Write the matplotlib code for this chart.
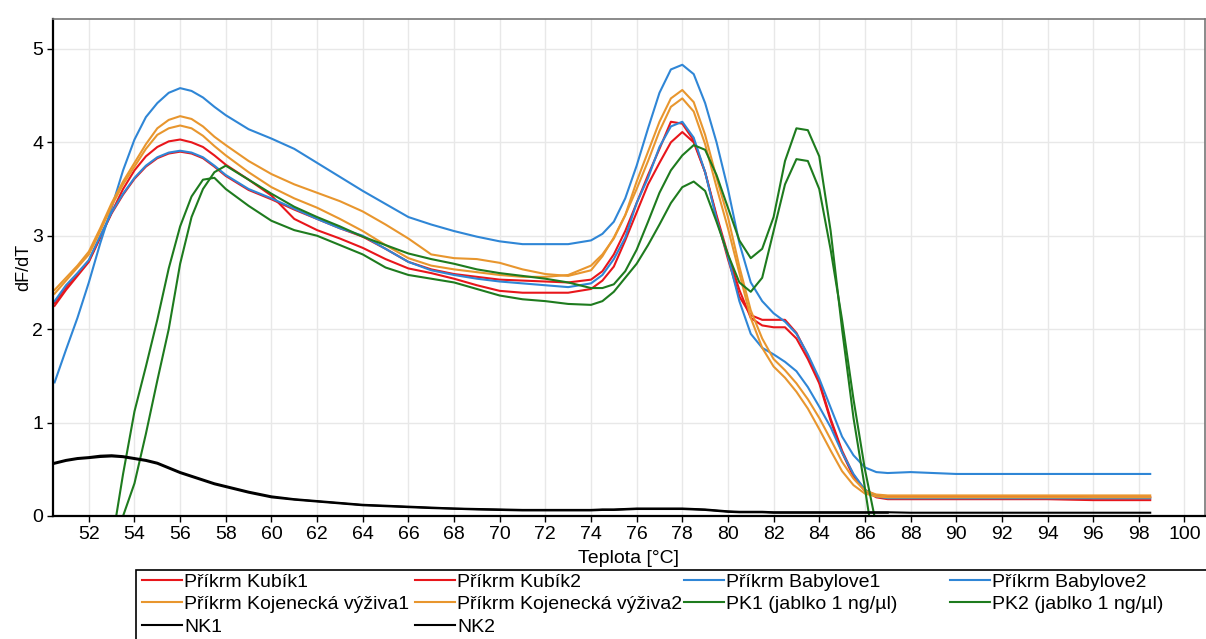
import matplotlib
matplotlib.use("Agg")
import matplotlib.pyplot as plt
import numpy as np
from matplotlib.patches import Rectangle

plt.rcParams["font.family"] = ["Liberation Sans", "DejaVu Sans"]

nan = np.nan

# teplota [°C] - spolecna mrizka odectenych bodu
T = [50.5, 51, 51.5, 52, 52.5, 53, 53.5, 54, 54.5, 55, 55.5, 56, 56.5, 57, 57.5, 58,
     59, 60, 61, 62, 63, 64, 65, 66, 67, 68, 69, 70, 71, 72, 73, 74,
     74.5, 75, 75.5, 76, 76.5, 77, 77.5, 78, 78.5, 79, 79.5, 80, 80.5, 81, 81.5, 82,
     82.5, 83, 83.5, 84, 84.5, 85, 85.5, 86, 86.5, 87,
     88, 90, 92, 94, 96, 98.5]

kubik1 = [2.25, 2.42, 2.57, 2.72, 2.98, 3.25, 3.50, 3.70, 3.85, 3.95, 4.01, 4.03, 4.00, 3.95, 3.86, 3.76,
          3.60, 3.43, 3.18, 3.06, 2.97, 2.87, 2.75, 2.65, 2.60, 2.54, 2.47, 2.41, 2.39, 2.39, 2.39, 2.43,
          2.52, 2.67, 2.95, 3.25, 3.55, 3.78, 4.00, 4.11, 4.00, 3.68, 3.22, 2.80, 2.42, 2.12, 2.04, 2.02,
          2.02, 1.90, 1.68, 1.42, 1.02, 0.68, 0.42, 0.27, 0.20, 0.18,
          0.18, 0.18, 0.18, 0.18, 0.17, 0.17]
kubik2 = [2.28, 2.45, 2.59, 2.73, 2.99, 3.24, 3.44, 3.61, 3.74, 3.83, 3.88, 3.90, 3.88, 3.83, 3.74, 3.64,
          3.49, 3.39, 3.28, 3.18, 3.08, 2.99, 2.86, 2.72, 2.64, 2.59, 2.56, 2.53, 2.52, 2.51, 2.50, 2.53,
          2.62, 2.80, 3.05, 3.35, 3.65, 3.93, 4.22, 4.20, 4.02, 3.68, 3.20, 2.75, 2.35, 2.15, 2.10, 2.10,
          2.10, 1.96, 1.72, 1.44, 1.04, 0.70, 0.44, 0.28, 0.22, 0.21,
          0.21, 0.21, 0.21, 0.21, 0.20, 0.20]
babylove1 = [1.43, 1.78, 2.12, 2.50, 2.92, 3.30, 3.70, 4.03, 4.27, 4.42, 4.53, 4.58, 4.55, 4.48, 4.38, 4.29,
             4.14, 4.04, 3.93, 3.78, 3.63, 3.48, 3.34, 3.20, 3.12, 3.05, 2.99, 2.94, 2.91, 2.91, 2.91, 2.95,
             3.02, 3.15, 3.40, 3.75, 4.15, 4.53, 4.78, 4.83, 4.73, 4.42, 4.00, 3.50, 2.92, 2.50, 2.30, 2.17,
             2.08, 1.95, 1.73, 1.47, 1.16, 0.85, 0.65, 0.52, 0.47, 0.46,
             0.47, 0.45, 0.45, 0.45, 0.45, 0.45]
babylove2 = [2.30, 2.47, 2.60, 2.74, 3.00, 3.25, 3.45, 3.62, 3.75, 3.84, 3.89, 3.91, 3.89, 3.84, 3.75, 3.65,
             3.50, 3.40, 3.29, 3.18, 3.08, 3.00, 2.86, 2.72, 2.63, 2.58, 2.54, 2.51, 2.49, 2.47, 2.45, 2.49,
             2.58, 2.75, 2.98, 3.35, 3.62, 3.95, 4.17, 4.22, 4.05, 3.68, 3.18, 2.78, 2.30, 1.95, 1.80, 1.73,
             1.65, 1.55, 1.38, 1.17, 0.95, 0.68, 0.45, 0.28, 0.21, 0.19,
             0.19, 0.19, 0.19, 0.19, 0.19, 0.19]
kojenecka1 = [2.42, 2.55, 2.68, 2.83, 3.08, 3.35, 3.58, 3.78, 3.98, 4.15, 4.24, 4.28, 4.25, 4.17, 4.06, 3.97,
              3.80, 3.66, 3.55, 3.46, 3.37, 3.26, 3.12, 2.97, 2.80, 2.76, 2.75, 2.71, 2.64, 2.59, 2.57, 2.63,
              2.78, 2.98, 3.22, 3.58, 3.90, 4.22, 4.47, 4.56, 4.43, 4.08, 3.62, 3.20, 2.67, 2.20, 1.90, 1.68,
              1.56, 1.42, 1.25, 1.05, 0.82, 0.58, 0.40, 0.27, 0.23, 0.22,
              0.22, 0.22, 0.22, 0.22, 0.22, 0.22]
kojenecka2 = [2.38, 2.52, 2.66, 2.80, 3.05, 3.32, 3.55, 3.74, 3.93, 4.08, 4.15, 4.18, 4.15, 4.07, 3.96, 3.86,
              3.68, 3.52, 3.40, 3.30, 3.18, 3.05, 2.90, 2.76, 2.68, 2.64, 2.61, 2.58, 2.56, 2.56, 2.58, 2.68,
              2.80, 2.97, 3.22, 3.50, 3.80, 4.12, 4.38, 4.47, 4.33, 3.98, 3.52, 3.08, 2.60, 2.12, 1.80, 1.60,
              1.48, 1.33, 1.15, 0.93, 0.70, 0.48, 0.33, 0.24, 0.21, 0.20,
              0.20, 0.20, 0.20, 0.20, 0.20, 0.20]
pk1 = [nan, nan, nan, nan, nan, -0.30, 0.45, 1.12, 1.60, 2.10, 2.65, 3.10, 3.42, 3.60, 3.62, 3.50,
       3.32, 3.16, 3.06, 3.00, 2.90, 2.80, 2.66, 2.58, 2.54, 2.50, 2.43, 2.36, 2.32, 2.30, 2.27, 2.26,
       2.30, 2.40, 2.55, 2.70, 2.90, 3.12, 3.35, 3.52, 3.58, 3.48, 3.15, 2.80, 2.50, 2.40, 2.55, 3.05,
       3.55, 3.82, 3.80, 3.50, 2.85, 2.10, 1.25, 0.50, -0.10, -0.80,
       nan, nan, nan, nan, nan, nan]
pk2 = [nan, nan, nan, nan, nan, -0.40, 0.00, 0.35, 0.88, 1.45, 2.00, 2.70, 3.20, 3.50, 3.68, 3.75,
       3.60, 3.45, 3.31, 3.20, 3.10, 2.99, 2.90, 2.81, 2.75, 2.70, 2.64, 2.60, 2.57, 2.54, 2.50, 2.44,
       2.44, 2.48, 2.62, 2.85, 3.15, 3.46, 3.70, 3.86, 3.97, 3.92, 3.65, 3.30, 2.95, 2.76, 2.86, 3.20,
       3.80, 4.15, 4.13, 3.85, 3.05, 2.00, 1.05, 0.30, -0.50, nan,
       nan, nan, nan, nan, nan, nan]
nk1 = [0.57, 0.60, 0.62, 0.63, 0.645, 0.65, 0.64, 0.62, 0.60, 0.57, 0.52, 0.47, 0.43, 0.39, 0.35, 0.32,
       0.26, 0.21, 0.18, 0.16, 0.14, 0.12, 0.11, 0.10, 0.09, 0.08, 0.075, 0.07, 0.065, 0.065, 0.065, 0.065,
       0.07, 0.07, 0.075, 0.08, 0.08, 0.08, 0.08, 0.08, 0.075, 0.07, 0.06, 0.05, 0.045, 0.045, 0.045, 0.04,
       0.04, 0.04, 0.04, 0.04, 0.04, 0.04, 0.04, 0.04, 0.04, 0.04,
       0.035, 0.035, 0.035, 0.035, 0.035, 0.035]
nk2 = [0.56, 0.59, 0.61, 0.62, 0.632, 0.638, 0.63, 0.61, 0.59, 0.56, 0.51, 0.46, 0.42, 0.38, 0.34, 0.31,
       0.25, 0.20, 0.175, 0.155, 0.135, 0.115, 0.105, 0.095, 0.085, 0.078, 0.07, 0.065, 0.06, 0.06, 0.06, 0.06,
       0.065, 0.065, 0.07, 0.075, 0.075, 0.075, 0.075, 0.075, 0.07, 0.065, 0.055, 0.045, 0.04, 0.04, 0.04, 0.035,
       0.035, 0.035, 0.035, 0.035, 0.035, 0.035, 0.035, 0.035, 0.035, 0.035,
       nan, nan, nan, nan, nan, nan]

RED, ORANGE, BLUE, GREEN, BLACK = "#e8161b", "#e8962e", "#2f86d6", "#1e7b1e", "#000000"

# (popisek, data, barva)
SERIE = [
    ("Příkrm Kubík1", kubik1, RED),
    ("Příkrm Kubík2", kubik2, RED),
    ("Příkrm Babylove1", babylove1, BLUE),
    ("Příkrm Babylove2", babylove2, BLUE),
    ("Příkrm Kojenecká výživa1", kojenecka1, ORANGE),
    ("Příkrm Kojenecká výživa2", kojenecka2, ORANGE),
    ("PK1 (jablko 1 ng/µl)", pk1, GREEN),
    ("PK2 (jablko 1 ng/µl)", pk2, GREEN),
    ("NK1", nk1, BLACK),
    ("NK2", nk2, BLACK),
]

fig = plt.figure(figsize=(12.06, 6.39), dpi=100)
ax = fig.add_axes([53 / 1206, 1 - 516 / 639, 1152 / 1206, 497 / 639])

handles = []
for label, y, c in SERIE:
    (h,) = ax.plot(T, y, color=c, lw=1.5, label=label)
    handles.append(h)

ax.set_xlim(50.43, 100.9)
ax.set_ylim(0, 5.32)
ax.set_xticks(np.arange(52, 101, 2))
ax.set_yticks(range(0, 6))
ax.tick_params(labelsize=14, length=4, width=1, color="black", pad=3)
ax.grid(True, color="#e8e8e8", lw=1)
ax.set_axisbelow(True)
for s in ("left", "bottom"):
    ax.spines[s].set_linewidth(1.6)
    ax.spines[s].set_color("black")
for s in ("top", "right"):
    ax.spines[s].set_linewidth(1.2)
    ax.spines[s].set_color("#777777")

ax.set_xlabel("Teplota [°C]", fontsize=14, labelpad=5)
ax.set_ylabel("dF/dT", fontsize=13, labelpad=0)

# legenda: 4 sloupce pevne sirky, plneno po radcich
sloupce_x = [142, 415, 684, 950]
for k, x0 in enumerate(sloupce_x):
    idx = list(range(k, len(SERIE), 4))
    fig.legend([handles[i] for i in idx], [SERIE[i][0] for i in idx],
               loc="upper left", bbox_to_anchor=(x0 / 1206, 1 - 573 / 639),
               frameon=False, fontsize=14, handlelength=2.05, handletextpad=0.12,
               labelspacing=0.25, borderaxespad=0, borderpad=0)
fig.patches.append(Rectangle((136 / 1206, -0.05), 1.0, 1 - 570 / 639 + 0.05,
                             transform=fig.transFigure, fill=False,
                             edgecolor="black", lw=1.2))

fig.savefig("out.png", dpi=100)
